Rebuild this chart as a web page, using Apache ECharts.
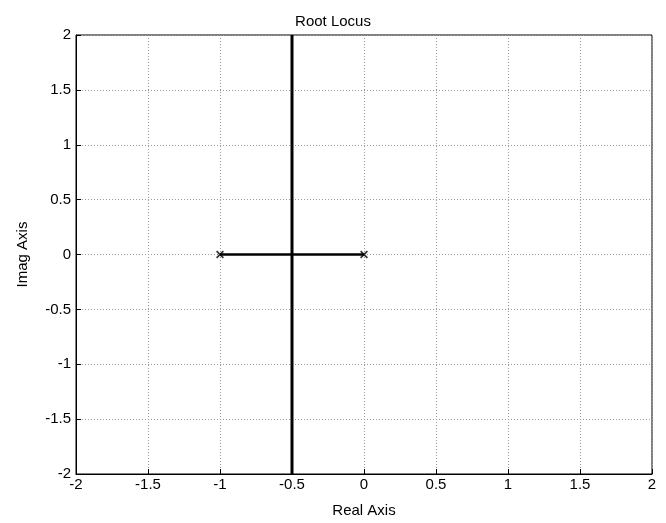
<!DOCTYPE html>
<html>
<head>
<meta charset="utf-8">
<script src="https://cdn.jsdelivr.net/npm/echarts@6/dist/echarts.min.js"></script>
<style>
  html, body { margin: 0; padding: 0; background: #fff; }
  #main { width: 666px; height: 523px; }
</style>
</head>
<body>
<div id="main"></div>
<script>
// root locus branches
var asymptote = [[-0.5, -2], [-0.5, 2]];
var realBranch = [[-1, 0], [0, 0]];
var poles = [[-1, 0], [0, 0]];
var xTicks = [-2, -1.5, -1, -0.5, 0, 0.5, 1, 1.5, 2];
var yTicks = [-2, -1.5, -1, -0.5, 0, 0.5, 1, 1.5, 2];

var font = 'Liberation Sans, Arial, sans-serif';
var crossPath = 'path://M0,1.5L1.5,0L5,3.5L8.5,0L10,1.5L6.5,5L10,8.5L8.5,10L5,6.5L1.5,10L0,8.5L3.5,5Z';

var myChart = echarts.init(document.getElementById('main'));
var option = {
  animation: false,
  backgroundColor: '#fff',
  title: {
    text: 'Root Locus',
    left: 'center',
    top: 9,
    textStyle: { fontFamily: font, fontSize: 15, fontWeight: 'normal', color: '#000' }
  },
  grid: {
    left: 76, right: 14, top: 35, bottom: 46,
    show: true, borderColor: '#000', borderWidth: 1
  },
  xAxis: {
    type: 'value',
    min: xTicks[0], max: xTicks[xTicks.length - 1], interval: 0.5,
    name: 'Real Axis', nameLocation: 'middle', nameGap: 29,
    nameTextStyle: { fontFamily: font, fontSize: 15, color: '#000' },
    axisLine: { show: true, onZero: false, lineStyle: { color: '#000' } },
    axisTick: { show: true, inside: true, length: 5, lineStyle: { color: '#000' } },
    axisLabel: { fontFamily: font, fontSize: 15, color: '#000', margin: 3 },
    splitLine: { show: true, lineStyle: { color: '#999', type: [1, 2], width: 1 } }
  },
  yAxis: {
    type: 'value',
    min: yTicks[0], max: yTicks[yTicks.length - 1], interval: 0.5,
    name: 'Imag Axis', nameLocation: 'middle', nameGap: 46,
    nameTextStyle: { fontFamily: font, fontSize: 15, color: '#000' },
    axisLine: { show: true, onZero: false, lineStyle: { color: '#000' } },
    axisTick: { show: true, inside: true, length: 5, lineStyle: { color: '#000' } },
    axisLabel: { fontFamily: font, fontSize: 15, color: '#000', margin: 5 },
    splitLine: { show: true, lineStyle: { color: '#999', type: [1, 2], width: 1 } }
  },
  series: [
    {
      type: 'line', data: asymptote, symbol: 'none',
      lineStyle: { color: '#000', width: 3 }
    },
    {
      type: 'line', data: realBranch, symbol: 'none',
      lineStyle: { color: '#000', width: 2.5 }
    },
    {
      type: 'scatter', data: poles, symbol: crossPath, symbolSize: 8,
      itemStyle: { color: '#000' }, z: 5
    }
  ]
};
myChart.setOption(option);
</script>
</body>
</html>
